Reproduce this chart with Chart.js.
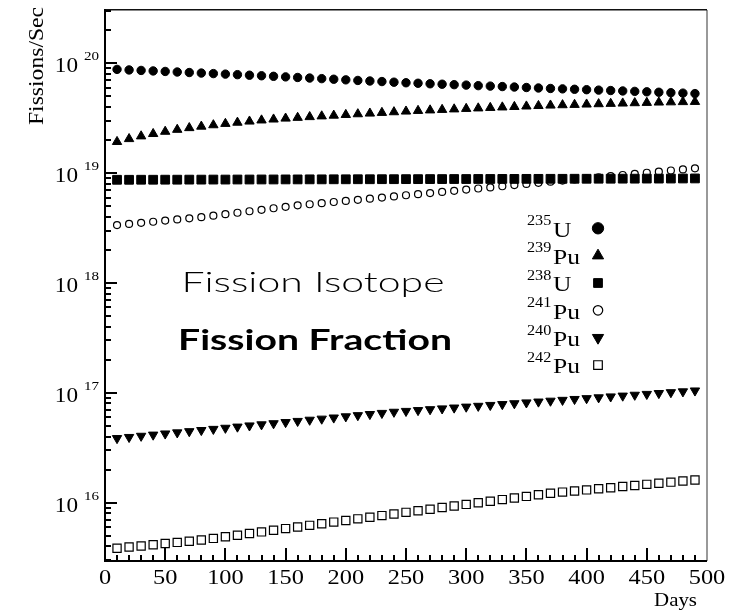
<!DOCTYPE html>
<html>
<head>
<meta charset="utf-8">
<script src="https://cdn.jsdelivr.net/npm/chart.js@4.4.0/dist/chart.umd.min.js"></script>
<style>
  html, body { margin: 0; padding: 0; background: #fff; }
  canvas { display: block; }
</style>
</head>
<body>
<canvas id="fissionChart" width="737" height="610"></canvas>
<script>
// days into the cycle
const days = [10, 20, 30, 40, 50, 60, 70, 80, 90, 100, 110, 120, 130, 140, 150, 160, 170, 180, 190, 200,
  210, 220, 230, 240, 250, 260, 270, 280, 290, 300, 310, 320, 330, 340, 350, 360, 370, 380, 390, 400,
  410, 420, 430, 440, 450, 460, 470, 480, 490];

// fissions per second
const u235 = [8.80e19, 8.70e19, 8.61e19, 8.52e19, 8.43e19, 8.33e19, 8.24e19, 8.15e19, 8.06e19, 7.97e19,
  7.88e19, 7.79e19, 7.70e19, 7.61e19, 7.52e19, 7.43e19, 7.34e19, 7.25e19, 7.16e19, 7.07e19,
  6.98e19, 6.90e19, 6.82e19, 6.73e19, 6.65e19, 6.58e19, 6.51e19, 6.45e19, 6.39e19, 6.33e19,
  6.26e19, 6.20e19, 6.14e19, 6.08e19, 6.02e19, 5.96e19, 5.90e19, 5.85e19, 5.80e19, 5.75e19,
  5.70e19, 5.65e19, 5.60e19, 5.55e19, 5.50e19, 5.45e19, 5.40e19, 5.35e19, 5.30e19];
const pu239 = [1.93e19, 2.05e19, 2.17e19, 2.28e19, 2.39e19, 2.49e19, 2.58e19, 2.66e19, 2.74e19, 2.82e19,
  2.89e19, 2.96e19, 3.03e19, 3.09e19, 3.15e19, 3.20e19, 3.25e19, 3.30e19, 3.35e19, 3.40e19,
  3.45e19, 3.50e19, 3.55e19, 3.60e19, 3.65e19, 3.70e19, 3.74e19, 3.78e19, 3.82e19, 3.86e19,
  3.90e19, 3.94e19, 3.98e19, 4.02e19, 4.06e19, 4.10e19, 4.14e19, 4.17e19, 4.20e19, 4.23e19,
  4.26e19, 4.29e19, 4.32e19, 4.35e19, 4.38e19, 4.41e19, 4.43e19, 4.45e19, 4.47e19];
const u238 = [8.70e18, 8.70e18, 8.71e18, 8.71e18, 8.72e18, 8.72e18, 8.73e18, 8.73e18, 8.74e18, 8.74e18,
  8.75e18, 8.75e18, 8.76e18, 8.76e18, 8.77e18, 8.77e18, 8.78e18, 8.78e18, 8.79e18, 8.79e18,
  8.80e18, 8.80e18, 8.81e18, 8.81e18, 8.82e18, 8.82e18, 8.83e18, 8.83e18, 8.84e18, 8.84e18,
  8.85e18, 8.85e18, 8.86e18, 8.86e18, 8.87e18, 8.87e18, 8.88e18, 8.88e18, 8.89e18, 8.89e18,
  8.90e18, 8.90e18, 8.91e18, 8.91e18, 8.92e18, 8.92e18, 8.93e18, 8.94e18, 8.95e18];
const pu241 = [3.37e18, 3.45e18, 3.53e18, 3.61e18, 3.70e18, 3.79e18, 3.88e18, 3.97e18, 4.10e18, 4.23e18,
  4.36e18, 4.50e18, 4.64e18, 4.79e18, 4.94e18, 5.09e18, 5.21e18, 5.33e18, 5.46e18, 5.59e18,
  5.72e18, 5.85e18, 5.99e18, 6.14e18, 6.29e18, 6.44e18, 6.59e18, 6.75e18, 6.91e18, 7.08e18,
  7.25e18, 7.42e18, 7.60e18, 7.78e18, 7.97e18, 8.16e18, 8.36e18, 8.56e18, 8.76e18, 8.97e18,
  9.18e18, 9.40e18, 9.62e18, 9.85e18, 1.008e19, 1.032e19, 1.057e19, 1.082e19, 1.107e19];
const pu240 = [3.86e16, 3.95e16, 4.05e16, 4.15e16, 4.25e16, 4.35e16, 4.46e16, 4.57e16, 4.68e16, 4.79e16,
  4.91e16, 5.03e16, 5.15e16, 5.27e16, 5.40e16, 5.53e16, 5.67e16, 5.80e16, 5.94e16, 6.09e16,
  6.24e16, 6.39e16, 6.54e16, 6.70e16, 6.82e16, 6.94e16, 7.07e16, 7.19e16, 7.32e16, 7.46e16,
  7.59e16, 7.73e16, 7.87e16, 8.01e16, 8.15e16, 8.30e16, 8.45e16, 8.60e16, 8.76e16, 8.91e16,
  9.07e16, 9.24e16, 9.40e16, 9.57e16, 9.74e16, 9.92e16, 1.010e17, 1.028e17, 1.047e17];
const pu242 = [3.85e15, 3.95e15, 4.04e15, 4.14e15, 4.25e15, 4.35e15, 4.46e15, 4.57e15, 4.73e15, 4.89e15,
  5.06e15, 5.24e15, 5.42e15, 5.61e15, 5.81e15, 6.01e15, 6.22e15, 6.43e15, 6.66e15, 6.89e15,
  7.13e15, 7.38e15, 7.63e15, 7.90e15, 8.17e15, 8.45e15, 8.73e15, 9.03e15, 9.34e15, 9.65e15,
  9.98e15, 1.032e16, 1.067e16, 1.104e16, 1.141e16, 1.180e16, 1.220e16, 1.249e16, 1.278e16, 1.308e16,
  1.339e16, 1.370e16, 1.402e16, 1.435e16, 1.469e16, 1.503e16, 1.539e16, 1.575e16, 1.610e16];

// legend names: mass number + element
const massNumbers = ['235', '239', '238', '241', '240', '242'];
const elements = ['U', 'Pu', 'U', 'Pu', 'Pu', 'Pu'];

// axis ticks
const xTickLabels = ['0', '50', '100', '150', '200', '250', '300', '350', '400', '450', '500'];
const xTickValues = [10, 20, 30, 40, 50, 60, 70, 80, 90, 100, 110, 120, 130, 140, 150, 160, 170, 180, 190, 200,
  210, 220, 230, 240, 250, 260, 270, 280, 290, 300, 310, 320, 330, 340, 350, 360, 370, 380, 390, 400,
  410, 420, 430, 440, 450, 460, 470, 480, 490];
const yDecades = [16, 17, 18, 19, 20];
const yMinorDecades = [15, 16, 17, 18, 19, 20];
const yMantissas = [1, 2, 3, 4, 5, 6, 7, 8, 9];

const SERIF = '"Liberation Serif", "Times New Roman", serif';
const SANS = 'Lato, "Open Sans", sans-serif';
const SX = 1.16; // the original lettering is a bit wide

function drawText(ctx, text, x, y, font, opts) {
  opts = opts || {};
  ctx.save();
  ctx.font = font;
  const w = ctx.measureText(text).width;
  const sx = opts.width ? opts.width / w : (opts.sx || 1);
  const full = w * sx;
  let x0 = x;
  if (opts.align === 'center') x0 = x - full / 2;
  else if (opts.align === 'right') x0 = x - full;
  ctx.translate(x0, y);
  if (opts.rotate) ctx.rotate(opts.rotate);
  ctx.scale(sx, 1);
  ctx.textAlign = 'left';
  ctx.textBaseline = 'alphabetic';
  ctx.fillStyle = '#000';
  ctx.fillText(text, 0, 0);
  ctx.restore();
}

const series = [
  { data: u235, style: 'circle', radius: 4.2, rot: 0, open: false },
  { data: pu239, style: 'triangle', radius: 5.4, rot: 0, open: false },
  { data: u238, style: 'rect', radius: 6.2, rot: 0, open: false },
  { data: pu241, style: 'circle', radius: 3.5, rot: 0, open: true },
  { data: pu240, style: 'triangle', radius: 5.4, rot: 180, open: false },
  { data: pu242, style: 'rect', radius: 5.8, rot: 0, open: true }
];

const datasets = series.map((s, i) => ({
  label: massNumbers[i] + elements[i],
  data: days.map((d, j) => ({ x: d, y: s.data[j] })),
  pointStyle: s.style,
  pointRadius: s.radius,
  pointRotation: s.rot,
  backgroundColor: s.open ? 'rgba(0,0,0,0)' : '#000',
  borderColor: '#000',
  borderWidth: s.open ? 1.2 : 1,
  showLine: false
}));

// inward ticks on the left and bottom axes
function drawTicks(chart) {
  const ctx = chart.ctx;
  const a = chart.chartArea;
  const xs = chart.scales.x, ys = chart.scales.y;
  ctx.save();
  ctx.strokeStyle = '#000';
  ctx.lineWidth = 2;
  ctx.beginPath();
  yMinorDecades.forEach(e => {
    yMantissas.forEach(m => {
      const v = m * Math.pow(10, e);
      if (v < 3e15 || v > 3e20) return;
      const py = Math.round(ys.getPixelForValue(v));
      const len = m === 1 ? 12 : 6;
      ctx.moveTo(a.left, py);
      ctx.lineTo(a.left + len, py);
    });
  });
  xTickValues.forEach(v => {
    const px = Math.round(xs.getPixelForValue(v));
    const len = v % 50 === 0 ? 13 : 6;
    ctx.moveTo(px, a.bottom);
    ctx.lineTo(px, a.bottom - len);
  });
  ctx.stroke();
  ctx.restore();
}

function drawFrame(chart) {
  const ctx = chart.ctx;
  const a = chart.chartArea;
  ctx.save();
  ctx.fillStyle = '#999';
  ctx.fillRect(a.right - 1, a.top, 2, a.bottom - a.top);
  ctx.fillStyle = '#111';
  ctx.fillRect(a.left, a.top - 1, a.right - a.left, 1.5);
  ctx.fillStyle = '#000';
  ctx.fillRect(a.left - 1, a.top - 1, 2, a.bottom - a.top + 2);
  ctx.fillRect(a.left - 1, a.bottom - 1, a.right - a.left + 1, 2);
  ctx.restore();
}

function drawLabels(chart) {
  const ctx = chart.ctx;
  const x = chart.scales.x, y = chart.scales.y;

  xTickLabels.forEach(t => {
    drawText(ctx, t, x.getPixelForValue(Number(t)), 584, '21px ' + SERIF, { align: 'center', sx: SX });
  });
  // 10 with the exponent raised
  yDecades.forEach(e => {
    const py = y.getPixelForValue(Math.pow(10, e));
    drawText(ctx, '10', 78, py + 9, '20px ' + SERIF, { align: 'right', sx: SX });
    drawText(ctx, String(e), 84, py - 3, '13px ' + SERIF, { sx: SX });
  });

  drawText(ctx, 'Days', 697, 606, '18px ' + SERIF, { align: 'right', sx: SX });
  drawText(ctx, 'Fissions/Sec', 43, 125, '22px ' + SERIF, { width: 118, rotate: -Math.PI / 2 });

  drawText(ctx, 'Fission Isotope', 313, 292, '300 28px ' + SANS, { align: 'center', width: 263 });
  drawText(ctx, 'Fission Fraction', 315, 350, 'bold 28px ' + SANS, { align: 'center', width: 274 });
}

function drawLegend(chart) {
  const ctx = chart.ctx;
  const legendScale = [1.35, 1.2, 1.0, 1.35, 1.2, 1.05];
  series.forEach((s, i) => {
    const cy = 228.3 + i * 27.35;
    drawText(ctx, massNumbers[i], 527, cy - 3.2, '14px ' + SERIF, { sx: SX });
    drawText(ctx, elements[i], 553, cy + 8.4, '22px ' + SERIF, { sx: SX });
    ctx.save();
    ctx.fillStyle = s.open ? '#fff' : '#000';
    ctx.strokeStyle = '#000';
    ctx.lineWidth = s.open ? 1.2 : 1;
    Chart.helpers.drawPoint(ctx, {
      pointStyle: s.style,
      radius: s.radius * legendScale[i],
      rotation: s.rot,
      borderWidth: s.open ? 1.2 : 1
    }, 598, cy);
    ctx.restore();
  });
}

new Chart(document.getElementById('fissionChart'), {
  type: 'scatter',
  data: { datasets },
  options: {
    responsive: false,
    animation: false,
    events: [],
    layout: { padding: { left: 105, right: 30, top: 10, bottom: 49 } },
    plugins: { legend: { display: false }, tooltip: { enabled: false } },
    scales: {
      x: { type: 'linear', display: false, min: 0, max: 500 },
      y: { type: 'logarithmic', display: false, min: 2.946e15, max: 3.056e20, bounds: 'data' }
    }
  },
  plugins: [{
    id: 'decorations',
    beforeDatasetsDraw(chart) {
      drawTicks(chart);
    },
    afterDraw(chart) {
      drawFrame(chart);
      drawTicks(chart);
      drawLabels(chart);
      drawLegend(chart);
      drawTicks(chart);
    }
  }]
});
</script>
</body>
</html>
